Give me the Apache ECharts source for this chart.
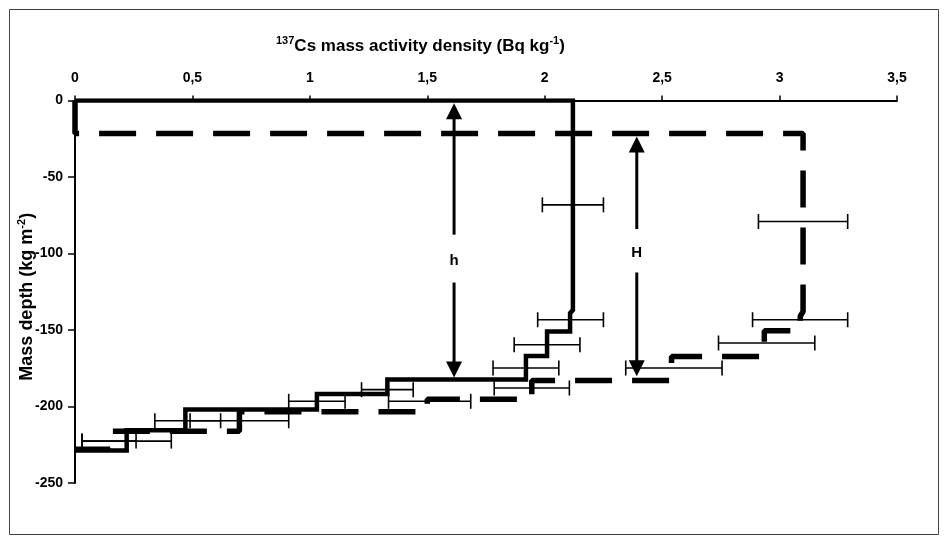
<!DOCTYPE html>
<html>
<head>
<meta charset="utf-8">
<script src="https://cdn.jsdelivr.net/npm/echarts@6/dist/echarts.min.js"></script>
<style>
    html, body { margin: 0; padding: 0; background: #fff; }
    #chart { width: 948px; height: 544px; }
</style>
</head>
<body>
<div id="chart"></div>
<script>
    // profile drawn with the solid line (activity, depth)
    const solidX = [0, 2.12, 2.12, 2.108, 2.108, 2.01, 2.01, 1.92, 1.92, 1.33, 1.33, 1.03, 1.03, 0.47, 0.47, 0.22, 0.22, 0];
    const solidY = [0, 0, -137, -139, -151, -151, -167, -167, -182.4, -182.4, -191.8, -191.8, -202, -202, -215.5, -215.5, -228.8, -228.8];

    // profile drawn with the dashed line
    const dashedX = [0, 0, 3.10, 3.10, 3.088, 3.088, 2.935, 2.935, 2.54, 2.54, 1.945, 1.945, 1.50, 1.50, 0.70, 0.70, 0.15, 0.15, 0];
    const dashedY = [0, -21.5, -21.5, -138, -141, -150.5, -150.5, -167.3, -167.3, -183, -183, -195.3, -195.3, -203.5, -203.5, -216.2, -216.2, -228, -228];

    // error bars
    const solidBarDepth = [-68.2, -143.3, -159.6, -174.8, -189, -196.6, -209.3, -222.6];
    const solidBarLow = [1.99, 1.97, 1.87, 1.78, 1.22, 0.91, 0.34, 0.03];
    const solidBarHigh = [2.25, 2.25, 2.15, 2.06, 1.44, 1.15, 0.62, 0.41];
    const dashedBarDepth = [-79.1, -143.3, -158.5, -174.8, -187.9, -196.6, -209.3, -222.6];
    const dashedBarLow = [2.91, 2.885, 2.74, 2.345, 1.785, 1.335, 0.49, 0.03];
    const dashedBarHigh = [3.29, 3.29, 3.15, 2.755, 2.105, 1.685, 0.91, 0.26];

    // h and H arrows: x, tip top, tip bottom, gap top, gap bottom
    const arrowLabels = ['h', 'H'];
    const arrowX = [1.614, 2.392];
    const arrowTop = [-1.8, -23.5];
    const arrowBottom = [-181, -180.3];
    const arrowGapTop = [-87.7, -84];
    const arrowGapBottom = [-119, -112.4];

    const xTicks = [0, 0.5, 1, 1.5, 2, 2.5, 3, 3.5];
    const yTicks = [0, -50, -100, -150, -200, -250];

    const font = 'Liberation Sans, Arial, sans-serif';
    const chart = echarts.init(document.getElementById('chart'));

    function zip(a, b) {
        return a.map((v, i) => [v, b[i]]);
    }

    function barItem(params, api) {
        const y = api.value(2);
        const p1 = api.coord([api.value(0), y]);
        const p2 = api.coord([api.value(1), y]);
        const st = { stroke: '#000', lineWidth: 1.6 };
        return {
            type: 'group',
            children: [
                { type: 'line', shape: { x1: p1[0], y1: p1[1], x2: p2[0], y2: p2[1] }, style: st },
                { type: 'line', shape: { x1: p1[0], y1: p1[1] - 7.5, x2: p1[0], y2: p1[1] + 7.5 }, style: st },
                { type: 'line', shape: { x1: p2[0], y1: p2[1] - 7.5, x2: p2[0], y2: p2[1] + 7.5 }, style: st }
            ]
        };
    }

    function arrowItem(params, api) {
        const x = api.value(0);
        const t = api.coord([x, api.value(1)]);
        const b = api.coord([x, api.value(2)]);
        const gt = api.coord([x, api.value(3)]);
        const gb = api.coord([x, api.value(4)]);
        const hl = 16, hw = 8;
        const st = { stroke: '#000', lineWidth: 3 };
        return {
            type: 'group',
            children: [
                { type: 'line', shape: { x1: t[0], y1: t[1] + hl - 2, x2: gt[0], y2: gt[1] }, style: st },
                { type: 'line', shape: { x1: gb[0], y1: gb[1], x2: b[0], y2: b[1] - hl + 2 }, style: st },
                { type: 'polygon', shape: { points: [[t[0], t[1]], [t[0] - hw, t[1] + hl], [t[0] + hw, t[1] + hl]] }, style: { fill: '#000' } },
                { type: 'polygon', shape: { points: [[b[0], b[1]], [b[0] - hw, b[1] - hl], [b[0] + hw, b[1] - hl]] }, style: { fill: '#000' } },
                {
                    type: 'text',
                    x: t[0], y: (gt[1] + gb[1]) / 2 + 2,
                    style: {
                        text: arrowLabels[params.dataIndex],
                        fill: '#000', font: 'bold 15px ' + font,
                        align: 'center', verticalAlign: 'middle'
                    }
                }
            ]
        };
    }

    function richFor(size, supSize, lh) {
        return {
            b: { fontSize: size, fontWeight: 'bold', color: '#000', fontFamily: font, lineHeight: lh },
            sup: { fontSize: supSize, fontWeight: 'bold', color: '#000', fontFamily: font, verticalAlign: 'top', lineHeight: lh }
        };
    }

    const option = {
        animation: false,
        backgroundColor: '#fff',
        textStyle: { fontFamily: font },
        title: {
            text: '{sup|137}{b|Cs mass activity density (Bq kg}{sup|-1}{b|)}',
            left: 271,
            top: 30,
            textStyle: { rich: richFor(17, 11, 22) }
        },
        graphic: [{
            type: 'rect',
            shape: { x: 9.5, y: 9.5, width: 929, height: 525 },
            style: { fill: 'none', stroke: '#444', lineWidth: 1 },
            silent: true
        }],
        grid: { left: 75, right: 51, top: 100.5, bottom: 61, containLabel: false, outerBoundsMode: 'none' },
        xAxis: {
            type: 'value',
            position: 'top',
            min: xTicks[0],
            max: xTicks[xTicks.length - 1],
            interval: 0.5,
            axisLine: { show: true, onZero: false, lineStyle: { color: '#000', width: 2 } },
            axisTick: { show: true, length: 5, lineStyle: { color: '#000', width: 1.5 } },
            axisLabel: {
                margin: 15,
                color: '#000', fontWeight: 'bold', fontSize: 14, fontFamily: font,
                formatter: v => String(v).replace('.', ',')
            },
            splitLine: { show: false }
        },
        yAxis: {
            type: 'value',
            min: yTicks[yTicks.length - 1],
            max: yTicks[0],
            interval: 50,
            name: '{b|Mass depth (kg m}{sup|-2}{b|)}',
            nameLocation: 'middle',
            nameRotate: 90,
            nameGap: 37,
            nameMoveOverlap: false,
            nameTextStyle: { rich: richFor(18, 11, 22), padding: [0, 10, 0, 0] },
            axisLine: { show: true, onZero: false, lineStyle: { color: '#000', width: 2 } },
            axisTick: { show: true, length: 7, lineStyle: { color: '#000', width: 1.5 } },
            axisLabel: { margin: 12, color: '#000', fontWeight: 'bold', fontSize: 14, fontFamily: font },
            splitLine: { show: false }
        },
        series: [
            {
                type: 'line',
                data: zip(dashedX, dashedY),
                symbol: 'none',
                lineStyle: { color: '#000', width: 5.5, type: [37, 20], cap: 'butt' },
                z: 3
            },
            {
                type: 'line',
                data: zip(solidX, solidY),
                symbol: 'none',
                lineStyle: { color: '#000', width: 4.5, cap: 'butt', join: 'miter' },
                z: 4
            },
            {
                type: 'custom',
                renderItem: barItem,
                encode: { x: [0, 1], y: 2 },
                data: solidBarDepth.map((d, i) => [solidBarLow[i], solidBarHigh[i], d]),
                z: 5
            },
            {
                type: 'custom',
                renderItem: barItem,
                encode: { x: [0, 1], y: 2 },
                data: dashedBarDepth.map((d, i) => [dashedBarLow[i], dashedBarHigh[i], d]),
                z: 5
            },
            {
                type: 'custom',
                renderItem: arrowItem,
                encode: { x: 0, y: [1, 2] },
                data: arrowX.map((x, i) => [x, arrowTop[i], arrowBottom[i], arrowGapTop[i], arrowGapBottom[i]]),
                z: 6
            }
        ]
    };

    chart.setOption(option);
</script>
</body>
</html>
